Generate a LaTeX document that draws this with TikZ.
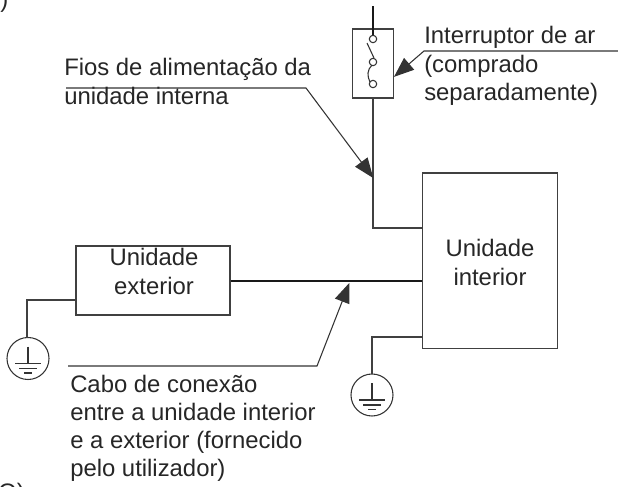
\documentclass[tikz,border=0pt]{standalone}
\usepackage{fontspec}
\setmainfont{Liberation Sans}
\usetikzlibrary{arrows.meta}
\tikzset{
 x=0.75pt,y=-0.75pt,
 ln/.style={draw=black!75,line width=1.05pt},
 thinln/.style={draw=black!80,line width=0.8pt},
 heavy/.style={draw=black!90,line width=1.7pt},
 boxn/.style={draw=black!75,line width=1.05pt,inner sep=0pt,fill=none},
 lbl/.style={inner sep=0pt,anchor=base west,font=\fontsize{17.9}{17.9}\selectfont,text=black!85},
 ctr/.style={inner sep=0pt,anchor=base,font=\fontsize{17.9}{17.9}\selectfont,text=black!85},
 tip/.style={-{Triangle[length=15pt,width=11.5pt]},shorten >=-1pt},
 gnd/.pic={\draw[thinln] (0,0) circle (21);
   \draw[thinln] (0,-12) -- (0,5) (-13,5)--(13,5) (-9,10)--(9,10) (-4,14.5)--(4,14.5);}
}
\begin{document}
\begin{tikzpicture}
\useasboundingbox (0,0) rectangle (618,486);
\begin{scope}
\clip (0,0) rectangle (618,486);
\node[lbl] (paren) at (0,7) {)};
\node[lbl] (oq) at (-2,500) {O)};
\end{scope}
% boxes
\node[boxn,minimum width=31.1pt,minimum height=51.75pt] (swbox) at (373,63.5) {};
\node[boxn,minimum width=101.6pt,minimum height=131.5pt] (int) at (490,260.7) {};
\node[boxn,minimum width=115.5pt,minimum height=51.75pt] (ext) at (153,280.5) {};
% switch
\coordinate (swtop) at (373,6);
\coordinate (c1) at (373,39);
\coordinate (c2) at (373,62);
\coordinate (c3) at (373,84);
\draw[heavy] (swtop) -- (373,35);
\draw[thinln] (c1) circle (3.7) (c2) circle (3.7) (c3) circle (3.7);
\draw[thinln] (367,43) -- (374,58);
\draw[thinln] (372,65) .. controls (367,70) and (367,76) .. (370,82);
% connectors
\coordinate (pw) at (int.west |- 0,228);
\draw[ln] (swbox.south) -- (swbox.south |- pw) -- (pw);
\coordinate (l1a) at (66,88);
\coordinate (l1b) at (306,88);
\coordinate (l1t) at (372.5,177);
\draw[thinln,tip] (l1a) -- (l1b) -- (l1t);
\coordinate (l2a) at (618,51);
\coordinate (l2b) at (424,51);
\coordinate (l2t) at (395,76);
\draw[thinln,tip] (l2a) -- (l2b) -- (l2t);
\coordinate (wl) at (ext.east |- 0,281);
\coordinate (wr) at (int.west |- 0,281);
\draw[heavy] (wl) -- (wr);
\coordinate (l3a) at (68,366);
\coordinate (l3b) at (317,366);
\coordinate (l3t) at (349,284);
\draw[thinln,tip] (l3a) -- (l3b) -- (l3t);
% grounds
\pic at (28,358.5) {gnd};
\pic at (372,395) {gnd};
\coordinate (g1) at (ext.west |- 0,300);
\coordinate (g2) at (int.west |- 0,337);
\draw[ln] (g1) -- (27,300) -- (27,338);
\draw[ln] (g2) -- (372,337) -- (372,374);
% text
\node[ctr] at (490,256) {Unidade};
\node[ctr] at (490,285) {interior};
\node[ctr] at (154,265) {Unidade};
\node[ctr] at (154,294) {exterior};
\node[lbl] at (64,75) {Fios de alimentação da};
\node[lbl] at (64,104) {unidade interna};
\node[lbl] at (424,43) {Interruptor de ar};
\node[lbl] at (424,72) {(comprado};
\node[lbl] at (424,100) {separadamente)};
\node[lbl] at (70,392) {Cabo de conexão};
\node[lbl] at (70,420) {entre a unidade interior};
\node[lbl] at (70,448) {e a exterior (fornecido};
\node[lbl] at (70,476) {pelo utilizador)};
\end{tikzpicture}
\end{document}
